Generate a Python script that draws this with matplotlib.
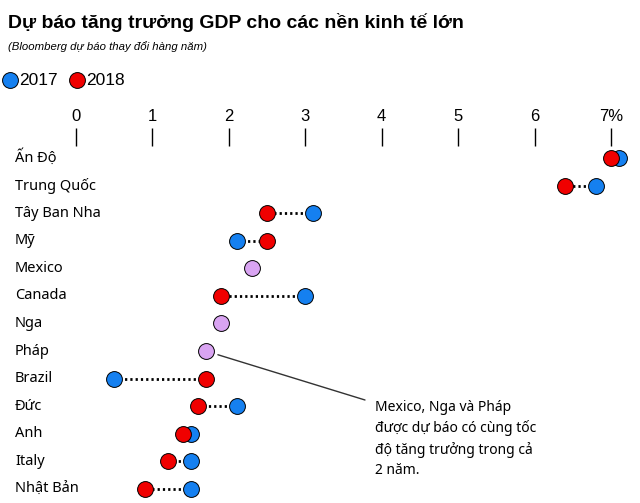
import matplotlib.pyplot as plt
import numpy as np

# data (GDP growth forecast, %)
countries = ["Ấn Độ", "Trung Quốc", "Tây Ban Nha", "Mỹ", "Mexico", "Canada", "Nga",
             "Pháp", "Brazil", "Đức", "Anh", "Italy", "Nhật Bản"]
g2017 = [7.1, 6.8, 3.1, 2.1, 2.3, 3.0, 1.9, 1.7, 0.5, 2.1, 1.5, 1.5, 1.5]
g2018 = [7.0, 6.4, 2.5, 2.5, 2.3, 1.9, 1.9, 1.7, 1.7, 1.6, 1.4, 1.2, 0.9]
xticks = [0, 1, 2, 3, 4, 5, 6, 7]
xticklabels = ["0", "1", "2", "3", "4", "5", "6", "7%"]

BLUE = "#1580f0"
RED = "#f00000"
PURPLE = "#d9a4f2"
BODY = ["Noto Sans", "DejaVu Sans"]

W, H = 640, 503
fig = plt.figure(figsize=(W / 100, H / 100), dpi=100)

# axes spanning full width; x=0 at 76px, 7 at 611px
ppu = (611 - 76) / 7
xl = -76 / ppu
xr = (W - 76) / ppu
top_px, row0, drow = 146, 158, 27.58
ax = fig.add_axes([0, 0, 1, (H - top_px) / H])
ax.set_xlim(xl, xr)
ax.set_ylim((H - row0) / drow, -(row0 - top_px) / drow)

for s in ax.spines.values():
    s.set_visible(False)
ax.set_yticks([])
ax.xaxis.tick_top()
ax.set_xticks(xticks)
ax.set_xticklabels(xticklabels, fontsize=12, family=["Liberation Sans"])
ax.tick_params(axis="x", direction="out", length=13, width=1, pad=3, colors="black")

y = np.arange(len(countries))
a = np.array(g2017)
b = np.array(g2018)
same = a == b

# dotted connectors
for i in range(len(countries)):
    if not same[i]:
        ax.plot([a[i], b[i]], [y[i], y[i]], color="black", ls=(0, (0.8, 1.1)), lw=2,
                zorder=1)

ms = 130
ax.scatter(a[~same], y[~same], s=ms, color=BLUE, edgecolor="black", lw=0.7, zorder=2)
ax.scatter(b[~same], y[~same], s=ms, color=RED, edgecolor="black", lw=0.7, zorder=3)
ax.scatter(a[same], y[same], s=ms, color=PURPLE, edgecolor="black", lw=0.7, zorder=3)

# row labels
for i, name in enumerate(countries):
    ax.text(15 / W, y[i], name, transform=ax.get_yaxis_transform(), ha="left",
            va="center", fontsize=10.5, family=BODY)

# annotation for Pháp
ip = countries.index("Pháp")
ax.annotate("", xy=(a[ip], y[ip]), xytext=(365 / ppu + xl, (400 - row0) / drow),
            arrowprops=dict(arrowstyle="-", color="#333333", lw=1,
                            shrinkA=0, shrinkB=9))
fig.text(375 / W, 1 - 400 / H,
         "Mexico, Nga và Pháp\nđược dự báo có cùng tốc\nđộ tăng trưởng trong cả\n2 năm.",
         ha="left", va="top", fontsize=10, family=BODY, linespacing=1.45)

# title block
fig.text(8 / W, 1 - 22 / H, "Dự báo tăng trưởng GDP cho các nền kinh tế lớn",
         ha="left", va="center", fontsize=14, fontweight="bold",
         family=["Liberation Sans"])
fig.text(8 / W, 1 - 47 / H, "(Bloomberg dự báo thay đổi hàng năm)",
         ha="left", va="center", fontsize=8.2, style="italic",
         family=["Liberation Sans"])

# legend
leg = fig.add_axes([0, 0, 1, 1], facecolor="none")
leg.set_xlim(0, W)
leg.set_ylim(H, 0)
leg.axis("off")
leg.scatter([10], [80], s=ms, color=BLUE, edgecolor="black", lw=0.7)
leg.scatter([77], [80], s=ms, color=RED, edgecolor="black", lw=0.7)
leg.text(19, 80, "2017", ha="left", va="center", fontsize=12.5, family=["Liberation Sans"])
leg.text(86, 80, "2018", ha="left", va="center", fontsize=12.5, family=["Liberation Sans"])

fig.savefig("out.png", dpi=100)
